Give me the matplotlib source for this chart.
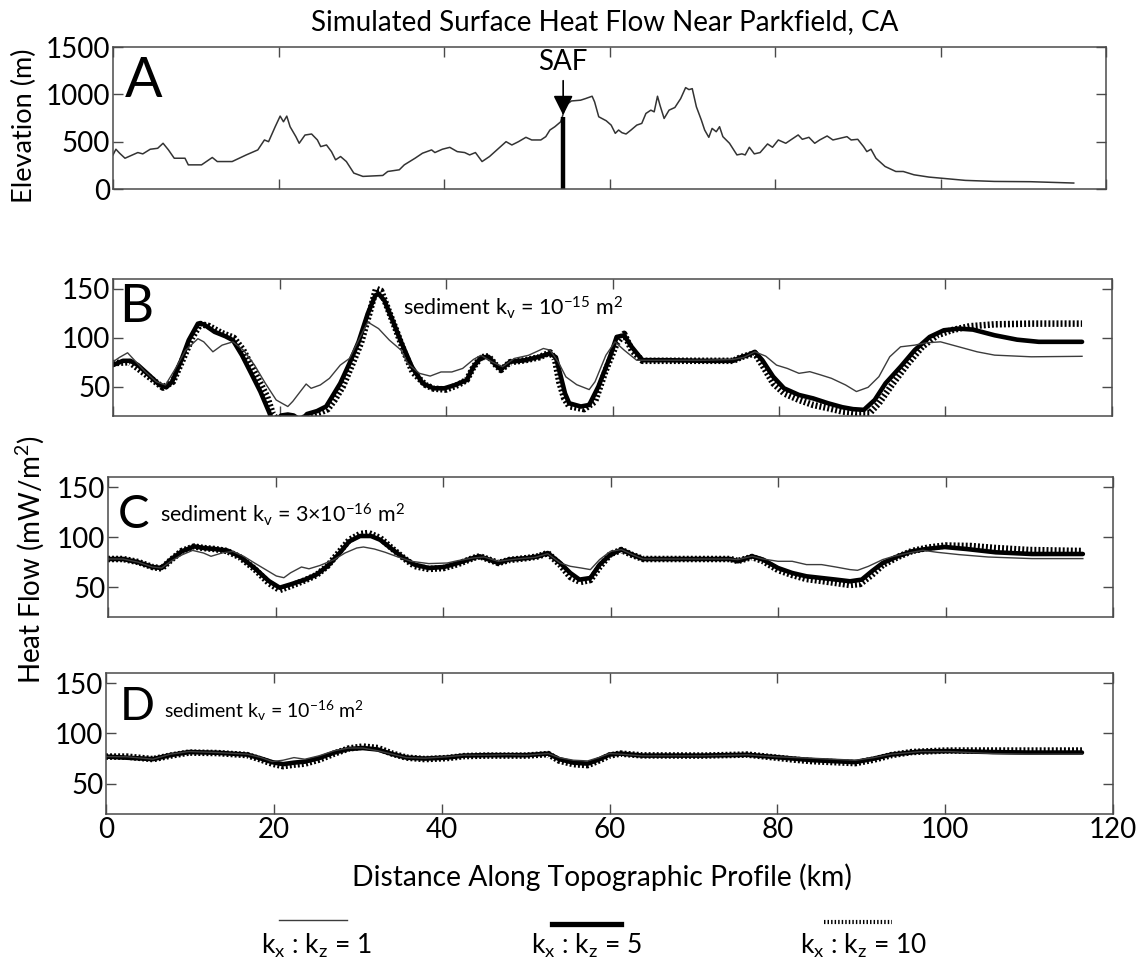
import matplotlib
matplotlib.use("Agg")
import matplotlib.pyplot as plt
from matplotlib.lines import Line2D

plt.rcParams['font.family'] = ['Lato', 'DejaVu Sans']
plt.rcParams['mathtext.fontset'] = 'custom'
plt.rcParams['mathtext.rm'] = 'Lato'

# ---------------- data ----------------
elev_km = [0, 0.35, 0.8, 1.45, 2.1, 3.0, 3.6, 4.5, 5.4, 6.05, 6.7, 7.4, 8.7, 9.1, 10.7, 12.0, 12.6,
           14.4, 16.1, 17.5, 18.3, 18.8, 19.6, 20.2, 20.6, 21.0, 21.4, 22.1, 22.5, 23.2, 24.0, 24.7,
           25.1, 25.8, 26.4, 26.9, 27.5, 28.2, 29.1, 30.2, 32.6, 33.2, 34.6, 35.2, 36.5, 37.4, 38.5,
           38.9, 39.8, 40.7, 41.6, 42.5, 43.1, 43.8, 44.6, 45.5, 46.6, 47.5, 48.2, 49.0, 49.9, 50.6,
           51.7, 52.3, 52.8, 53.4, 54.1, 54.3, 54.7, 55.4, 56.5, 57.1, 57.9, 58.2, 58.7, 59.6, 60.2,
           60.7, 61.1, 61.5, 62.0, 62.6, 63.3, 63.9, 64.4, 65.0, 65.4, 65.8, 66.1, 66.6, 67.2, 67.9,
           68.6, 69.2, 69.6, 70.0, 70.5, 71.1, 71.5, 72.0, 72.4, 72.9, 73.3, 73.7, 74.5, 75.4, 76.0,
           76.4, 76.9, 77.5, 78.2, 79.1, 79.7, 80.4, 81.3, 81.9, 82.8, 83.3, 84.1, 84.8, 85.4, 86.3,
           87.0, 87.9, 88.7, 89.2, 90.0, 90.7, 91.1, 91.6, 92.2, 93.3, 94.6, 95.5, 96.8, 98.6, 100.4,
           103.0, 106.5, 110.9, 116.1]
elev_m = [360, 420, 378, 325, 350, 385, 371, 420, 430, 483, 413, 325, 325, 255, 255, 333, 290,
          290, 360, 413, 518, 500, 658, 770, 710, 770, 658, 553, 483, 570, 581, 518,
          448, 465, 395, 308, 343, 290, 168, 133, 143, 185, 203, 255, 325, 378, 413,
          385, 420, 440, 395, 385, 360, 385, 290, 343, 430, 500, 465, 500, 546, 518,
          518, 553, 623, 658, 710, 763, 885, 930, 938, 955, 980, 920, 763, 721, 675,
          588, 623, 595, 581, 623, 675, 693, 798, 833, 815, 980, 885, 745, 833, 861,
          955, 1071, 1050, 1060, 868, 728, 623, 546, 640, 605, 658, 553, 483, 360, 371,
          360, 441, 371, 385, 476, 441, 518, 483, 518, 571, 525, 546, 483, 518, 560,
          518, 536, 553, 518, 525, 448, 395, 420, 325, 238, 185, 185, 150, 126, 112,
          91, 80, 77, 63]

saf_km = 54.4
saf_top_m = 760

# Panel B (sediment kv = 1e-15)
b_k1_km = [0, 0.8, 1.75, 2.8, 3.9, 5.2, 6.3, 7.4, 8.7, 10.2, 10.9, 12.0, 13.1, 14.4, 15.7, 17.0, 18.3,
           19.6, 20.3, 21.0, 21.6, 22.5, 23.2, 23.8, 24.9, 26.0, 27.3, 28.4, 29.7, 30.6, 31.9, 33.2,
           34.6, 35.4, 36.8, 38.1, 39.4, 40.7, 42.0, 43.3, 44.2, 45.5, 46.8, 48.2, 49.9, 51.7, 52.5,
           53.5, 54.4, 55.7, 57.2, 57.9, 59.2, 60.3, 61.4, 62.9, 66.6, 71.0, 74.5, 75.8, 77.1, 78.4,
           79.7, 81.0, 82.4, 83.7, 85.0, 86.3, 88.0, 89.3, 90.7, 92.0, 93.3, 94.6, 96.3, 97.6, 99.4,
           101.6, 103.8, 105.9, 110.3, 116.4]
b_k1 = [75.4, 80, 84.6, 75, 65, 55, 51.7, 67, 87, 99, 95.8, 85.6, 92.4, 95.8, 87, 72, 53.4,
        36.4, 33, 29.7, 35, 45, 52.7, 48.3, 51.7, 58.5, 72, 78.8, 100.8, 116, 109.3, 97.5,
        87.3, 73.7, 63.6, 60.8, 65, 65, 68.6, 77.8, 82, 75.4, 70.3, 78.8, 82, 89, 87.3,
        75, 60, 52, 47, 55, 82, 95.8, 87.3, 77, 77, 77, 77.8, 80, 85.6, 81.2,
        72, 68.6, 63.6, 65.3, 62, 58.5, 51.7, 45, 49.3, 60.2, 80.5, 90.7, 92.4, 94.7, 95.8,
        90.7, 85.6, 82.2, 80.5, 81]
b_k5_km = [0, 1.2, 2.1, 3.0, 4.3, 5.6, 6.4, 7.1, 8.2, 9.1, 10.2, 10.9, 12.2, 13.5, 14.4, 15.5, 16.6,
           17.7, 18.8, 19.0, 19.7, 20.2, 21.0, 21.7, 22.3, 23.0, 23.3, 24.5, 25.6, 26.2, 27.3, 28.4,
           29.5, 30.6, 31.5, 31.9, 32.6, 33.5, 34.6, 35.9, 37.2, 38.5, 39.8, 41.1, 42.5, 43.3, 44.2,
           45.1, 46.0, 46.6, 47.7, 49.5, 51.2, 52.5, 53.2, 53.8, 54.3, 54.8, 56.2, 57.2, 58.3, 59.7,
           60.5, 61.4, 62.3, 63.6, 66.6, 71.0, 74.5, 75.4, 76.2, 77.1, 78.0, 79.3, 80.6, 82.4, 84.1,
           85.9, 87.6, 88.9, 90.2, 91.5, 92.8, 94.6, 96.3, 98.1, 99.8, 101.6, 103.3, 105.9, 108.6,
           111.2, 116.4]
b_k5 = [72, 76.4, 76.4, 72, 62, 51.7, 49.3, 55, 77, 97.5, 114.4, 113.7, 106, 101.5, 97.5, 82, 63.6,
        45, 23, 18, 16, 20.5, 21.5, 20.5, 17, 19, 22, 25, 29.7, 38, 53.4, 73.7,
        95.8, 124.6, 143, 145, 138, 119.5, 95.8, 70.3, 53.4, 48.3, 48.3, 51.7, 56.8, 70.3, 79.8,
        80.5, 72, 67.6, 75.4, 77, 80.5, 84, 80, 60, 43, 33, 29.7, 31.3, 50, 80.5,
        100.8, 102.5, 90.7, 77, 77, 76.4, 76.4, 80, 82, 85.6, 77, 60.2, 48.3, 41.5, 38,
        33, 29, 27, 26.3, 36.4, 53.4, 70.3, 87.3, 100.8, 107.6, 109.3, 108.3, 102.5, 98,
        95.8, 95.8]
b_k10_km = [0, 2, 4, 6, 7.2, 8.5, 9.5, 10.5, 11.5, 13, 14.5, 15.6, 17, 18.5, 19.2, 19.8, 21, 22.5,
            23.3, 24, 25, 25.8, 26.6, 27.6, 28.6, 29.8, 30.8, 31.6, 32.2, 33, 34, 35, 36, 37.5, 38.5,
            40, 41.5, 42.5, 43.3, 44.2, 45.1, 46, 46.6, 47.7, 49.5, 51.2, 52.5, 53.1, 53.6, 54.2,
            54.8, 56.6, 57.9, 59.2, 60.5, 61.4, 62.3, 63.6, 66.6, 71, 74.5, 75.4, 76.2, 77.1, 78.0,
            79.3, 80.6, 82.4, 84.1, 85.9, 87.6, 89.3, 90.9, 92.0, 93.7, 95.5, 97.2, 99.0, 100.7,
            102.9, 105.9, 110.3, 116.4]
b_k10 = [74, 75, 62, 49, 55, 80, 100, 114, 112, 105, 100, 88, 65, 40, 22, 15, 14, 16,
         20, 21.5, 24, 27, 36, 50, 70, 95, 125, 150, 148, 130, 108, 85, 65, 52, 48,
         47, 52, 57, 70, 80, 81, 72, 67, 75, 77, 80, 85, 78, 55, 38,
         30, 27, 34.8, 67, 94, 104, 87.3, 76.4, 76.4, 76.4, 76.4, 80, 82, 84, 72,
         53.4, 43.2, 36.4, 31.3, 28, 24.6, 23, 23, 33, 53.4, 73.7, 90.7, 102.5, 107.6,
         111.7, 113.7, 114.4, 114.4]

# Panel C (sediment kv = 3e-16)
c_k1_km = [0, 1.8, 3.6, 5.3, 6.4, 7.5, 8.8, 10.1, 11.4, 12.3, 13.6, 14.9, 16.2, 17.5, 18.8, 20.1, 21.0,
           21.8, 23.1, 24.0, 25.3, 27.0, 28.3, 29.7, 30.5, 31.8, 33.1, 34.4, 36.2, 38.3, 40.5, 41.8,
           43.6, 44.9, 46.6, 48.8, 51.0, 52.5, 54.0, 55.2, 56.5, 57.6, 58.7, 60, 61.3, 62.6, 63.9,
           69.1, 74.3, 75.2, 76.9, 78.2, 80.0, 81.7, 83.4, 85.2, 86.9, 88.6, 89.5, 90.8, 92.5, 93.8,
           95.6, 97.3, 99.0, 101.6, 105.1, 110.3, 116.4]
c_k1 = [78, 78, 74.8, 70, 69, 75.7, 82, 86.6, 84, 80.7, 84, 85.6, 80.7, 74, 67.5, 61, 59.3,
        64.2, 70, 68.2, 71.5, 77.4, 84, 89, 90, 88, 84.7, 80.7, 75.7, 73.4, 74, 76.4,
        79, 80, 75.7, 78, 79.7, 83.3, 74, 70.7, 69, 67.4, 77.4, 85.7, 87.4, 82.4, 78,
        78, 78, 77.4, 80.7, 78, 75.7, 75.7, 72.4, 72.4, 70, 67.4, 66.7, 70.7, 77.4, 80.7,
        84, 86.7, 84.7, 82.4, 80, 78.4, 78.4]
c_k5_km = [0, 1.8, 3.6, 5.3, 6.4, 7.5, 8.8, 10.3, 11.4, 12.7, 14.2, 15.7, 17.5, 19.2, 20.5, 21.8,
           23.6, 24.9, 26.2, 27.5, 28.8, 30.1, 31.4, 32.5, 34.0, 35.3, 36.6, 38.3, 40.1, 41.8, 43.6,
           44.4, 45.3, 46.6, 47.9, 50.1, 51.4, 52.5, 54.0, 55.2, 56.3, 57.6, 58.7, 60, 61.3, 62.6,
           63.9, 69.1, 74.3, 75.2, 76.9, 78.2, 80.0, 81.7, 83.4, 85.2, 86.9, 88.6, 90, 91.2, 92.5,
           94.3, 96.0, 97.7, 99.9, 102.5, 106.0, 110.3, 116.4]
c_k5 = [78, 78, 74.8, 70, 69, 77.4, 85.6, 90.6, 89, 88, 86.6, 80.7, 69, 56, 49.3, 52.6,
        57.6, 62.5, 70.8, 82.4, 95.6, 101, 101, 97.2, 87.3, 79, 72.4, 69, 70, 74, 79,
        80.7, 78, 74, 77.4, 79, 80.7, 84, 74, 64, 57.4, 59, 72.4, 82.4, 87.4, 82.4,
        78, 78, 78, 75.7, 80.7, 77.4, 69, 64, 60.7, 59, 57.4, 55.7, 57.4, 65.7, 74,
        80.7, 85.7, 88, 90, 88, 84.7, 83, 83]
c_k10_km = [0, 1.8, 3.6, 5.3, 6.4, 7.5, 8.8, 10.3, 11.4, 12.7, 14.2, 15.7, 17.5, 19.2, 20.5, 21.8,
            23.6, 24.9, 26.2, 27.5, 28.8, 30.1, 31.1, 32.5, 34, 35.3, 36.6, 38.3, 40.1, 41.8, 43.6,
            44.4, 45.3, 46.6, 47.9, 50.1, 51.4, 52.5, 54, 55.2, 56.4, 57.6, 58.7, 60, 61.3, 62.6,
            63.9, 69.1, 74.3, 75.2, 76.9, 78.2, 80, 81.7, 83.4, 85.2, 86.9, 88.6, 89.8, 91.2, 92.5,
            94.3, 96, 98, 100, 103, 106, 110, 116.4]
c_k10 = [78, 78, 75, 70, 68.5, 77, 86, 90.5, 89, 88, 86, 80, 68, 54, 47, 51,
         57, 62, 71, 84, 97, 103, 104, 99, 88, 79, 71, 68, 69, 73, 79,
         80.7, 78, 74, 77, 79, 80.7, 84, 72, 60, 55, 57, 70, 83, 87, 82,
         78, 78, 78, 76, 80, 76, 67, 62, 58, 56, 54, 52, 53, 62, 72,
         80, 86, 89.5, 91.5, 91, 89, 87, 86]

# Panel D (sediment kv = 1e-16)
d_k1_km = [0, 2.5, 5.6, 7.7, 9.9, 13.3, 16.8, 18.5, 19.8, 21.1, 22.4, 23.7, 25.4, 27.2, 28.9, 30.6,
           32.4, 34.1, 35.8, 38.0, 40.6, 42.7, 45.3, 47.9, 50.1, 52.7, 54, 55.7, 57.4, 58.7, 60,
           61.3, 63.9, 71.2, 76.4, 79.8, 84.1, 86.7, 89.3, 91.5, 93.6, 97.1, 100.5, 105.7, 110, 116.3]
d_k1 = [77, 76.8, 74.4, 79.4, 82, 81, 79.4, 76, 72, 73.4, 76, 74.4, 77.8, 82.8, 85.5, 85.5,
        82.8, 79.4, 76, 75.4, 76.8, 78.4, 78.4, 78.8, 78.4, 80, 76, 73.4, 72.7, 76, 80,
        79.4, 77.8, 77.8, 78.8, 76.8, 75.4, 74.4, 73.4, 76, 79.4, 82, 82, 80, 79.4, 79.4]
d_k5_km = [0, 5.6, 7.7, 9.9, 13.3, 16.8, 18.5, 19.8, 21.1, 22.4, 23.7, 25.4, 27.2, 28.9, 30.6, 32.4,
           34.1, 35.8, 38, 40.6, 42.7, 45.3, 50.1, 52.7, 54, 55.7, 57.4, 58.7, 60, 61.3, 63.9,
           71.2, 76.4, 79.8, 84.1, 86.7, 89.3, 91.5, 93.6, 97, 100.5, 105.7, 110, 116.3]
d_k5 = [77, 74.5, 78.5, 81.5, 80.8, 79, 75, 71.5, 69.5, 71, 72, 75.5, 81, 84.5, 85.5, 84,
        79.5, 76, 75, 76, 78, 78.4, 78.4, 80, 74.5, 71, 70, 74, 79, 80, 78,
        78, 78.8, 76.5, 73.5, 72.5, 71.5, 75, 79, 82, 82.5, 81.5, 81, 81]
d_k10_km = [0, 2.5, 5.6, 7.7, 9.9, 13.3, 16.8, 18.5, 19.8, 21.1, 22.4, 23.7, 25.4, 27.2, 28.9, 30.6,
            32.4, 34.1, 35.8, 38, 40.6, 42.7, 45.3, 47.9, 50.1, 52.7, 54, 55.7, 57.4, 58.7, 60,
            61.3, 63.9, 71.2, 76.4, 79.8, 82, 84.1, 86.7, 89.3, 91.5, 93.6, 96, 100, 105, 110, 116.3]
d_k10 = [77, 77, 74.5, 78, 81, 80.5, 78.5, 74, 70, 67.5, 69, 70, 74, 80, 85, 87,
         85.5, 80, 76, 74.5, 75.5, 77.5, 78, 78, 78, 79.5, 73, 69.5, 68.5, 73, 78,
         80, 78.2, 78, 79, 76, 74, 72.5, 71.5, 70.5, 74, 78.5, 81.5, 83, 83, 83, 83]

x_ticks = [0, 20, 40, 60, 80, 100, 120]
elev_ticks = [0, 500, 1000, 1500]
hf_ticks = [50, 100, 150]

title = 'Simulated Surface Heat Flow Near Parkfield, CA'
xlabel = 'Distance Along Topographic Profile (km)'
elev_label = 'Elevation (m)'
hf_label = r'Heat Flow (mW/m$\mathregular{^2}$)'
panel_letters = ['A', 'B', 'C', 'D']
sed_labels = [r'sediment $\mathregular{k_v}$ = $\mathregular{10^{-15}}$ m$\mathregular{^2}$',
              r'sediment $\mathregular{k_v}$ = 3$\times$$\mathregular{10^{-16}}$ m$\mathregular{^2}$',
              r'sediment $\mathregular{k_v}$ = $\mathregular{10^{-16}}$ m$\mathregular{^2}$']
legend_labels = [r'$\mathregular{k_x}$ : $\mathregular{k_z}$ = 1',
                 r'$\mathregular{k_x}$ : $\mathregular{k_z}$ = 5',
                 r'$\mathregular{k_x}$ : $\mathregular{k_z}$ = 10']

# ---------------- styling ----------------
W, H = 1136, 966
fig = plt.figure(figsize=(W / 100, H / 100), dpi=100)

def fx(px):
    return px / W

def fy(py):
    return 1 - py / H

axes_px = [(113, 1106, 47, 189), (113, 1112, 279, 416), (108, 1113, 477, 617), (106, 1113, 673, 814)]
axs = []
for l, r, top, bot in axes_px:
    ax = fig.add_axes([fx(l), fy(bot), fx(r - l), (bot - top) / H])
    axs.append(ax)

spine_c = '#4a4a4a'
thin_style = dict(color='#3c3c3c', lw=1.0)
thick_style = dict(color='black', lw=3.3, solid_capstyle='round')
dot_style = dict(color='black', lw=4.7, linestyle=(0, (0.3, 0.32)))

for i, ax in enumerate(axs):
    ax.set_xlim(0, 120)
    ax.set_xticks(x_ticks)
    ax.tick_params(direction='in', top=True, right=True, length=7, width=1.0,
                   color=spine_c, labelsize=20, pad=2)
    for s in ax.spines.values():
        s.set_color(spine_c)
        s.set_linewidth(1.1)
    if i < 3:
        ax.set_xticklabels([])

# Panel A
axA = axs[0]
axA.plot(elev_km, elev_m, color='#333333', lw=1.1)
axA.set_ylim(0, 1500)
axA.set_yticks(elev_ticks)
axA.plot([saf_km, saf_km], [0, saf_top_m], color='black', lw=3.2, solid_capstyle='butt')
axA.annotate('SAF', xy=(saf_km, saf_top_m + 20), xytext=(saf_km, 1340),
             ha='center', va='center', fontsize=20,
             arrowprops=dict(arrowstyle='-|>', color='black', lw=1.2,
                             mutation_scale=30, shrinkA=2, shrinkB=0))
axA.text(0.012, 0.76, 'A', transform=axA.transAxes, fontsize=40, ha='left', va='center')

series = [
    (b_k1_km, b_k1, b_k5_km, b_k5, b_k10_km, b_k10),
    (c_k1_km, c_k1, c_k5_km, c_k5, c_k10_km, c_k10),
    (d_k1_km, d_k1, d_k5_km, d_k5, d_k10_km, d_k10),
]
sed_pos = [(0.29, 0.79, 15.5), (0.052, 0.73, 15.5), (0.058, 0.73, 14)]
letter_pos = [(0.006, 0.79, 38), (0.010, 0.73, 34), (0.014, 0.76, 33)]
for j, ax in enumerate(axs[1:]):
    k1x, k1, k5x, k5, k10x, k10 = series[j]
    ax.plot(k5x, k5, **thick_style)
    ax.plot(k10x, k10, **dot_style)
    ax.plot(k1x, k1, **thin_style)
    ax.set_ylim(20, 160)
    ax.set_yticks(hf_ticks)
    lx, ly, lfs = letter_pos[j]
    ax.text(lx, ly, panel_letters[j + 1], transform=ax.transAxes, fontsize=lfs,
            ha='left', va='center')
    sx, sy, fs = sed_pos[j]
    ax.text(sx, sy, sed_labels[j], transform=ax.transAxes, fontsize=fs,
            ha='left', va='center')

fig.text(fx(605), fy(22), title, ha='center', va='center', fontsize=20)
fig.text(fx(602), fy(877), xlabel, ha='center', va='center', fontsize=20.3)
fig.text(fx(24), fy(126), elev_label, ha='center', va='center', rotation=90, fontsize=19.5)
fig.text(fx(30), fy(560), hf_label, ha='center', va='center', rotation=90, fontsize=20)

# legend (figure coordinates)
leg_lines = [(279, 347, 920, thin_style), (552, 621, 924, dict(color='black', lw=3.8)),
             (824, 892, 922, dict(color='black', lw=3.0, linestyle=(0, (0.35, 0.5))))]
leg_text_x = [316, 586, 863]
for (x0, x1, yy, st), tx, lab in zip(leg_lines, leg_text_x, legend_labels):
    fig.add_artist(Line2D([fx(x0), fx(x1)], [fy(yy), fy(yy)], **st))
    fig.text(fx(tx), fy(954), lab, ha='center', va='baseline', fontsize=19)

fig.savefig('out.png', dpi=100)
